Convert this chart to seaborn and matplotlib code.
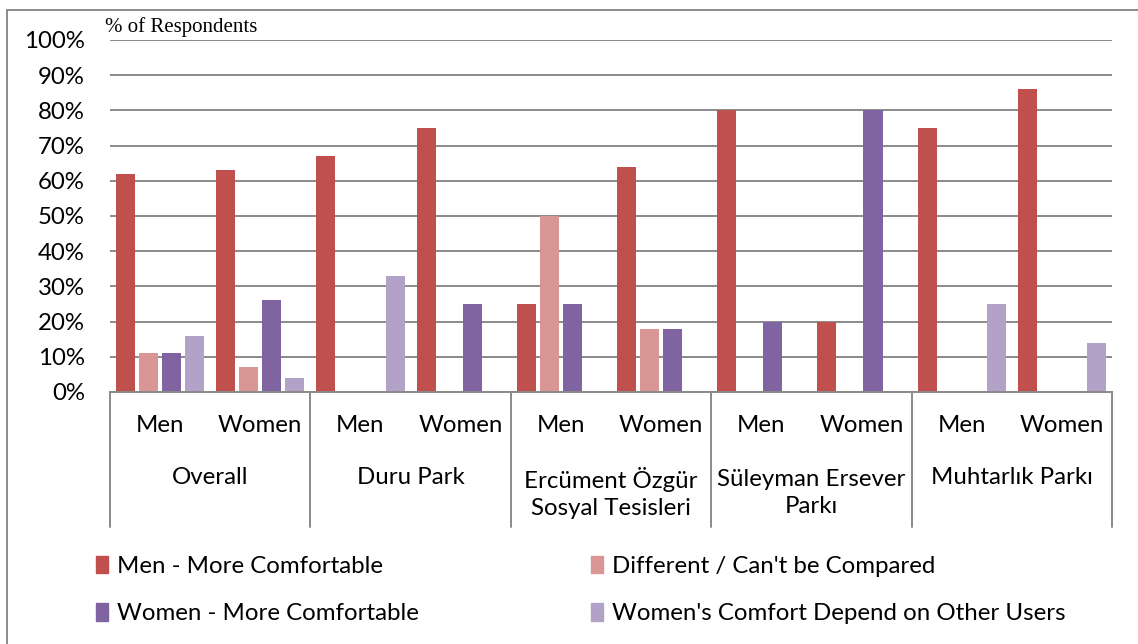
import matplotlib
matplotlib.use("Agg")
import matplotlib.pyplot as plt
import matplotlib.patches as mpatches
from matplotlib.lines import Line2D
import seaborn as sns
import pandas as pd

locations = ["Overall", "Duru Park", "Ercüment Özgür\nSosyal Tesisleri",
             "Süleyman Ersever\nParkı", "Muhtarlık Parkı"]
genders = ["Men", "Women"]

series_names = ["Men - More Comfortable", "Different / Can't be Compared",
                "Women - More Comfortable", "Women's Comfort Depend on Other Users"]
men_more = [62, 63, 67, 75, 25, 64, 80, 20, 75, 86]
different = [11, 7, 0, 0, 50, 18, 0, 0, 0, 0]
women_more = [11, 26, 0, 25, 25, 18, 20, 80, 0, 0]
depends_on_users = [16, 4, 33, 0, 0, 0, 0, 0, 25, 14]

colors = ["#C0504D", "#D99694", "#8064A2", "#B3A2C7"]
ytick_labels = [f"{v}%" for v in range(0, 101, 10)]

# long-form table: one row per (location, gender, series)
cats = [f"{loc}|{g}" for loc in locations for g in genders]
rows = []
for name, vals in zip(series_names, [men_more, different, women_more, depends_on_users]):
    for c, v in zip(cats, vals):
        rows.append({"cat": c, "series": name, "value": v})
df = pd.DataFrame(rows)

sns.set_theme(style="white")
plt.rcParams["font.family"] = ["Lato", "DejaVu Sans"]
plt.rcParams["text.color"] = "#000000"

FS = 17.3
W, H = 1138, 644
fig = plt.figure(figsize=(W / 100, H / 100), dpi=100)
ax = fig.add_axes([110 / W, 1 - 392 / H, (1112 - 110) / W, (392 - 40) / H])

sns.barplot(data=df, x="cat", y="value", hue="series", order=cats,
            hue_order=series_names, palette=colors, width=0.92, gap=0.17,
            linewidth=0, saturation=1, ax=ax, legend=False)

ax.set_ylim(0, 100)
ax.set_xlim(-0.5, len(cats) - 0.5)
ax.set_yticks(range(0, 101, 10))
ax.set_yticklabels(ytick_labels, fontsize=FS, color="#000000")
ax.tick_params(axis="y", length=0, pad=18)
ax.set_xticks([])
ax.set_xlabel("")
ax.set_ylabel("")
ax.yaxis.grid(True, color="#8A8A8A", linewidth=1.4)
ax.set_axisbelow(True)
for s in ["top", "right", "left"]:
    ax.spines[s].set_visible(False)
ax.spines["bottom"].set_color("#8A8A8A")
ax.spines["bottom"].set_linewidth(1.4)

# two-level category axis
span = 392 - 40
trans = ax.get_xaxis_transform()
y_sub = -(426 - 392) / span
y_loc1 = -(477 - 392) / span
y_loc2 = -(493 - 392) / span
y_end = -(527 - 392) / span
for i, c in enumerate(cats):
    ax.text(i, y_sub, c.split("|")[1], transform=trans, ha="center", va="center",
            fontsize=FS, color="#000000")
for i, loc in enumerate(locations):
    yy = y_loc2 if "\n" in loc else y_loc1
    ax.text(2 * i + 0.5, yy, loc, transform=trans, ha="center", va="center",
            fontsize=FS, color="#000000", linespacing=1.36)
for b in range(len(locations) + 1):
    ax.add_line(Line2D([2 * b - 0.5, 2 * b - 0.5], [0, y_end], transform=trans,
                       color="#8A8A8A", linewidth=1.4, clip_on=False))

# axis caption
fig.text(105 / W, 1 - 27 / H, "% of Respondents", ha="left", va="center",
         fontsize=15, family="Liberation Serif", color="#000000")

# outer frame
fig.patches.append(mpatches.Rectangle((7 / W, -0.05), 1.2, 1 - 10 / H + 0.05,
                                      transform=fig.transFigure, fill=False,
                                      edgecolor="#8A8A8A", linewidth=1.4))

# legend in two columns
handles = [mpatches.Patch(color=c) for c in colors]
for col, x0 in enumerate([96, 591]):
    idx = [col, col + 2]
    fig.legend([handles[i] for i in idx], [series_names[i] for i in idx],
               loc="upper left", bbox_to_anchor=(x0 / W, 1 - 556 / H),
               frameon=False, fontsize=FS, handlelength=0.5, handleheight=0.72,
               handletextpad=0.38, labelspacing=1.1, borderaxespad=0, borderpad=0,
               labelcolor="#000000")

fig.savefig("out.png", dpi=100)
